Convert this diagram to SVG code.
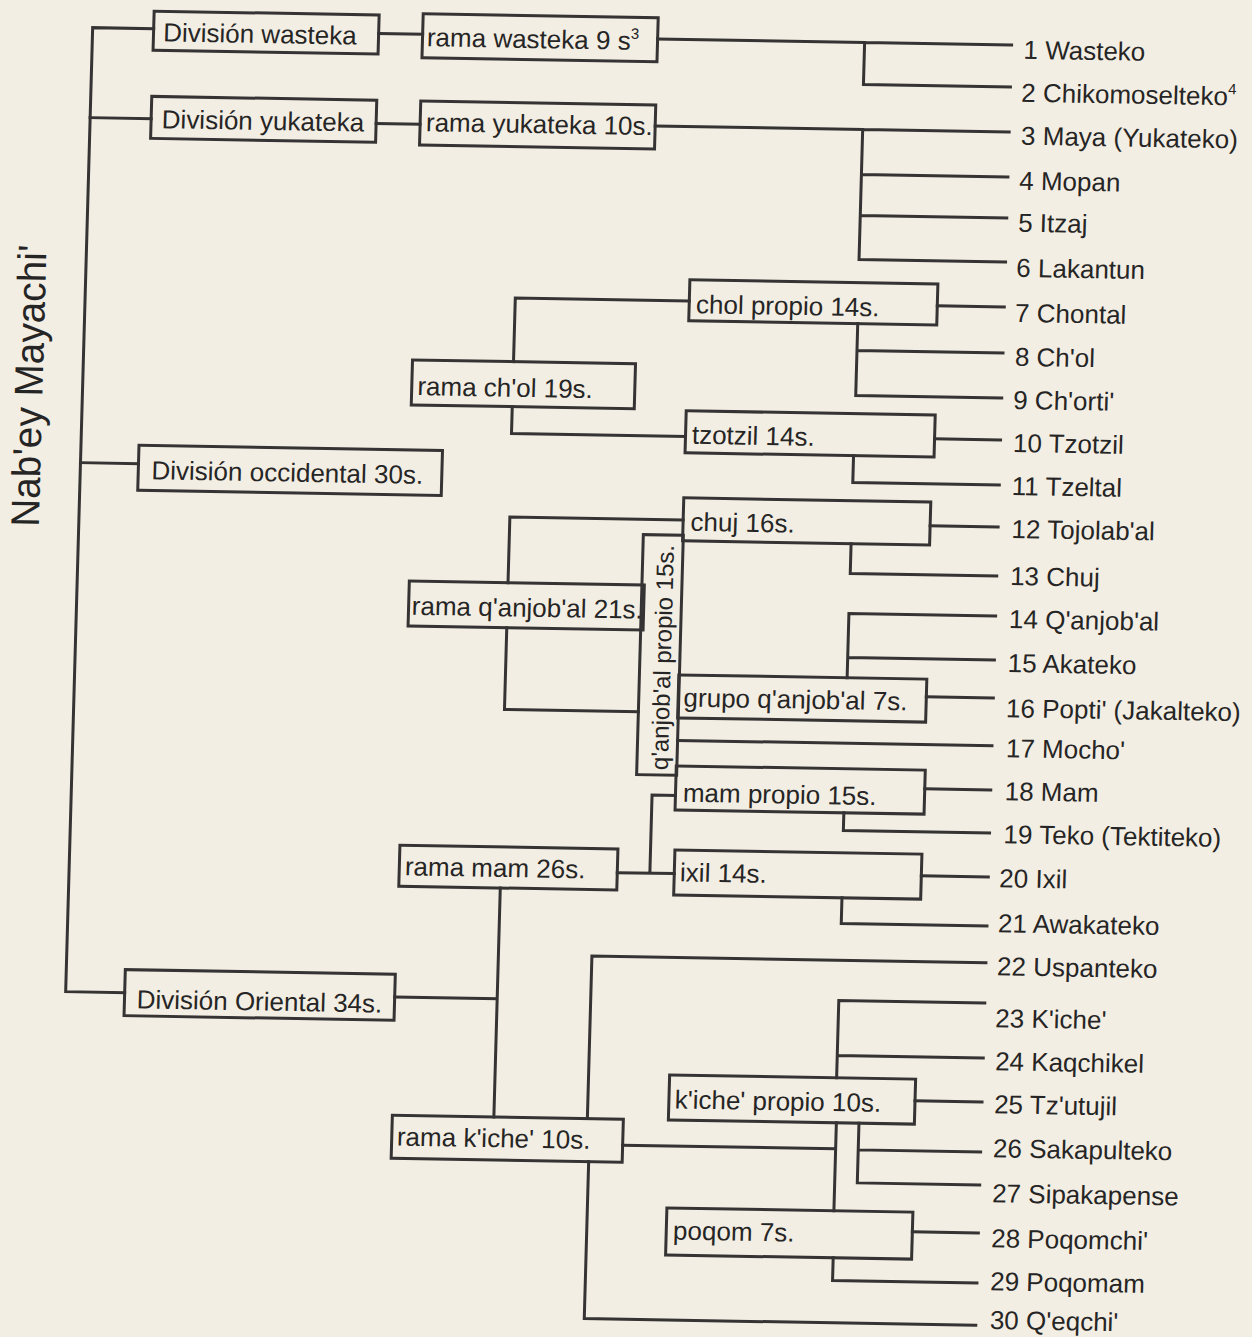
<svg xmlns="http://www.w3.org/2000/svg" width="1252" height="1337" viewBox="0 0 1252 1337">
<style>
.bx{fill:none;stroke:#353333;stroke-width:3}
.ln{fill:none;stroke:#353333;stroke-width:3;stroke-linecap:square;stroke-linejoin:miter}
text{font-family:"Liberation Sans",Arial,sans-serif;font-size:26px;fill:#262525}
.lf{font-size:26px}
</style>
<rect width="1252" height="1337" fill="#f3eee3"/>
<g transform="matrix(1 0.017 -0.028 1 18.70 -10.64)">
<g id="title"><text transform="translate(35,396) rotate(-90)" text-anchor="middle" font-size="40" style="font-size:40px" textLength="282" lengthAdjust="spacingAndGlyphs">Nab'ey Mayachi'</text></g>
<g id="connectors" class="ln">
<path d="M136,37 H75 V1001 H134"/>
<path d="M75,127 H136"/>
<path d="M75,472 H133"/>
<path d="M361,38 H405"/>
<path d="M361,128 H405"/>
<path d="M640,38.7 H994 M847,38.7 V80.7 H994"/>
<path d="M640,125.7 H994 M847.5,125.7 V255.7 H994 M847.5,170.7 H994 M847.5,211.7 H994"/>
<path d="M505,363.7 V300 H679 M505,408.7 V435.5 H679"/>
<path d="M927,300.7 H994 M848,319.8 V391.7 H994 M848,346.7 H994"/>
<path d="M928,433.7 H994 M847.5,451.9 V478.7 H994"/>
<path d="M926,520.7 H994 M847.5,539.9 V569.7 H994"/>
<path d="M505.7,584.7 V519 H679 M505.7,629.7 V711.5 H639.6"/>
<path d="M927,691.7 H994 M847.3,674 V609.7 H994 M847.3,653.7 H994"/>
<path d="M679.6,739.5 H994"/>
<path d="M623,872.7 H680 M655.6,872.7 V794.6 H679"/>
<path d="M506.5,890 V1119 M404,1000.8 H506.5"/>
<path d="M928,783.7 H994 M847.8,809 V826.7 H994"/>
<path d="M927,870.7 H994 M848.3,894 V919.7 H994"/>
<path d="M600,1119 V956.5 H994 M602.5,1162 V1319 H994 M636,1145 H849 M849,1119 V1207"/>
<path d="M927,1095.7 H994 M848,1074 V996.7 H994 M848,1051.7 H994 M871.6,1119 V1178.7 H994 M871.6,1145.7 H994"/>
<path d="M928,1226.7 H994 M849.6,1254 V1276.7 H994"/>
</g>
<g id="n-div-wasteka"><rect class="bx" x="136" y="19.5" width="225" height="39"/><text x="145.6" y="49.5">División wasteka</text></g>
<g id="n-div-yukateka"><rect class="bx" x="136" y="104.7" width="225" height="42"/><text x="146.7" y="136.3">División yukateka</text></g>
<g id="n-div-occidental"><rect class="bx" x="133" y="453.7" width="303.5" height="45"/><text x="146.2" y="487.4">División occidental 30s.</text></g>
<g id="n-div-oriental"><rect class="bx" x="134" y="978" width="270" height="46"/><text x="146.2" y="1016.5">División Oriental 34s.</text></g>
<g id="n-rama-wasteka"><rect class="bx" x="405" y="17.5" width="235" height="44"/><text x="409.4" y="49.9">rama wasteka 9 s<tspan dy="-11" style="font-size:15px">3</tspan></text></g>
<g id="n-rama-yukateka"><rect class="bx" x="405" y="104.8" width="235" height="44"/><text x="410.8" y="134.9">rama yukateka 10s.</text></g>
<g id="n-rama-chol"><rect class="bx" x="404" y="363.7" width="223" height="45"/><text x="409.6" y="398.8">rama ch'ol 19s.</text></g>
<g id="n-rama-qanjobal"><rect class="bx" x="407" y="584.7" width="235" height="45"/><text x="410.2" y="618.4">rama q'anjob'al 21s.</text></g>
<g id="n-rama-mam"><rect class="bx" x="405" y="849" width="218" height="41"/><text x="410.6" y="879">rama mam 26s.</text></g>
<g id="n-rama-kiche"><rect class="bx" x="405" y="1119" width="231" height="43"/><text x="410.2" y="1149.2">rama k'iche' 10s.</text></g>
<g id="n-chol-propio"><rect class="bx" x="679" y="278.8" width="248" height="41"/><text x="685.8" y="312.2">chol propio 14s.</text></g>
<g id="n-tzotzil"><rect class="bx" x="679" y="409.9" width="249" height="42"/><text x="685.4" y="442.7">tzotzil 14s.</text></g>
<g id="n-chuj"><rect class="bx" x="679" y="496.9" width="247" height="43"/><text x="686.5" y="529.8">chuj 16s.</text></g>
<g id="n-qanjobal-propio"><rect class="bx" x="639.6" y="534.4" width="40" height="240"/><text transform="translate(670.5,656.9) rotate(-90)" text-anchor="middle" style="font-size:24px" textLength="225" lengthAdjust="spacingAndGlyphs">q'anjob'al propio 15s.</text></g>
<g id="n-grupo-qanjobal"><rect class="bx" x="679" y="674" width="248" height="43"/><text x="684.4" y="705.5">grupo q'anjob'al 7s.</text></g>
<g id="n-mam-propio"><rect class="bx" x="679" y="765" width="249" height="44"/><text x="686.4" y="800.7">mam propio 15s.</text></g>
<g id="n-ixil"><rect class="bx" x="680" y="849" width="247" height="45"/><text x="685.8" y="880.3">ixil 14s.</text></g>
<g id="n-kiche-propio"><rect class="bx" x="681" y="1074" width="246" height="45"/><text x="686.8" y="1107.4">k'iche' propio 10s.</text></g>
<g id="n-poqom"><rect class="bx" x="682" y="1207" width="246" height="47"/><text x="688.8" y="1238.4">poqom 7s.</text></g>
<g id="leaves" class="lf">
<g id="l1"><text x="1006" y="52.3">1 Wasteko</text></g>
<g id="l2"><text x="1005" y="95.3">2 Chikomoselteko<tspan dy="-11" style="font-size:15px">4</tspan></text></g>
<g id="l3"><text x="1006" y="138.3">3 Maya (Yukateko)</text></g>
<g id="l4"><text x="1005.4" y="183.3">4 Mopan</text></g>
<g id="l5"><text x="1005.5" y="225.3">5 Itzaj</text></g>
<g id="l6"><text x="1005" y="270.4">6 Lakantun</text></g>
<g id="l7"><text x="1005" y="315.5">7 Chontal</text></g>
<g id="l8"><text x="1006" y="359.4">8 Ch'ol</text></g>
<g id="l9"><text x="1005.5" y="402.5">9 Ch'orti'</text></g>
<g id="l10"><text x="1006.5" y="445.5">10 Tzotzil</text></g>
<g id="l11"><text x="1006.5" y="488.5">11 Tzeltal</text></g>
<g id="l12"><text x="1007.5" y="531.5">12 Tojolab'al</text></g>
<g id="l13"><text x="1007.4" y="578.6">13 Chuj</text></g>
<g id="l14"><text x="1007.5" y="621.6">14 Q'anjob'al</text></g>
<g id="l15"><text x="1007.5" y="665.6">15 Akateko</text></g>
<g id="l16"><text x="1007" y="710.7">16 Popti' (Jakalteko)</text></g>
<g id="l17"><text x="1008" y="750.7">17 Mocho'</text></g>
<g id="l18"><text x="1008" y="793.7">18 Mam</text></g>
<g id="l19"><text x="1008" y="836.7">19 Teko (Tektiteko)</text></g>
<g id="l20"><text x="1005" y="880.8">20 Ixil</text></g>
<g id="l21"><text x="1005" y="925.8">21 Awakateko</text></g>
<g id="l22"><text x="1005.3" y="968.8">22 Uspanteko</text></g>
<g id="l23"><text x="1005" y="1020.8">23 K'iche'</text></g>
<g id="l24"><text x="1006" y="1063.8">24 Kaqchikel</text></g>
<g id="l25"><text x="1006.2" y="1106.8">25 Tz'utujil</text></g>
<g id="l26"><text x="1006.4" y="1150.8">26 Sakapulteko</text></g>
<g id="l27"><text x="1006.7" y="1195.8">27 Sipakapense</text></g>
<g id="l28"><text x="1007" y="1240.8">28 Poqomchi'</text></g>
<g id="l29"><text x="1007.2" y="1283.8">29 Poqomam</text></g>
<g id="l30"><text x="1008" y="1322.5">30 Q'eqchi'</text></g>
</g>
</g>
</svg>
